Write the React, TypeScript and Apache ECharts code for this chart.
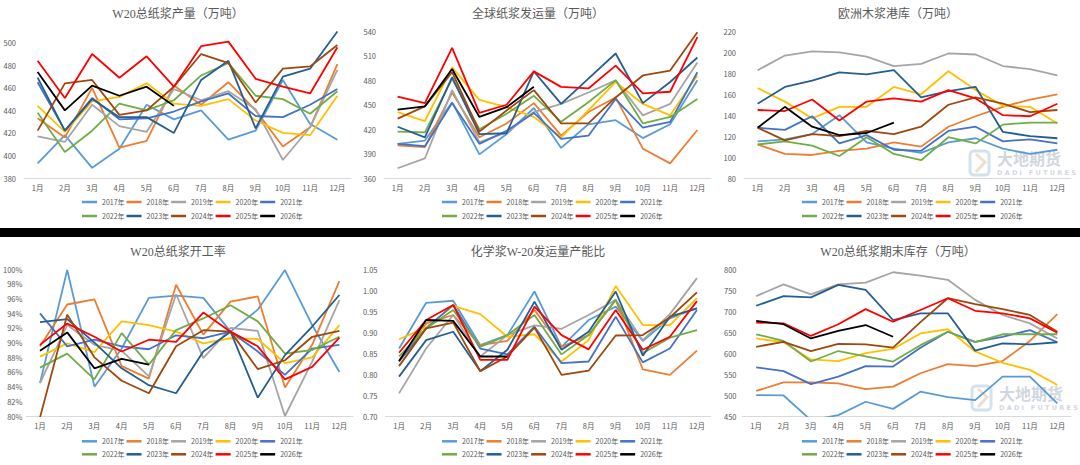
import React, { useEffect, useRef } from 'react';
import * as echarts from 'echarts';

const months = ['1月', '2月', '3月', '4月', '5月', '6月', '7月', '8月', '9月', '10月', '11月', '12月'];
const years = ['2017年', '2018年', '2019年', '2020年', '2021年', '2022年', '2023年', '2024年', '2025年', '2026年'];
const yearColors = ['#5B9BD5', '#ED7D31', '#A5A5A5', '#FFC000', '#4472C4', '#70AD47', '#255E91', '#9E480E', '#FF0000', '#000000'];

// W20总纸浆产量（万吨）, one row per year 2017..2026
const w20Output = [
  [393, 418, 389, 406, 445, 432, 440, 414, 422, 467, 428, 414],
  [433, 416, 460, 407, 413, 462, 445, 465, 440, 408, 425, 481],
  [417, 412, 445, 426, 421, 459, 449, 457, 441, 396, 425, 476],
  [444, 421, 448, 452, 464, 446, 444, 450, 431, 420, 418, 453],
  [465, 422, 451, 432, 433, 439, 448, 455, 435, 434, 445, 459],
  [438, 403, 422, 446, 440, 449, 471, 482, 453, 450, 437, 457],
  [469, 422, 450, 434, 434, 420, 467, 484, 424, 470, 477, 510],
  [422, 464, 467, 436, 440, 461, 490, 482, 447, 477, 479, 498],
  [484, 451, 490, 469, 488, 461, 497, 501, 468, 461, 455, 496],
  [474, 440, 462, 453, 461, 444],
];

// 全球纸浆发运量（万吨）
const globalShipments = [
  [402, 406, 453, 389, 414, 446, 397, 426, 431, 409, 426, 480],
  [400, 398, 465, 410, 427, 452, 412, 441, 459, 396, 378, 419],
  [372, 384, 468, 404, 416, 441, 451, 465, 480, 437, 451, 502],
  [441, 430, 496, 456, 447, 435, 410, 443, 478, 451, 437, 486],
  [402, 399, 452, 402, 418, 440, 408, 412, 457, 422, 429, 490],
  [417, 416, 482, 420, 439, 461, 429, 453, 480, 427, 435, 457],
  [423, 410, 484, 414, 415, 491, 451, 482, 513, 452, 478, 508],
  [433, 448, 490, 417, 443, 468, 427, 427, 459, 486, 492, 539],
  [460, 452, 520, 440, 450, 491, 472, 470, 498, 464, 466, 533],
  [444, 448, 494, 435, 447, 472],
];

// 欧洲木浆港库（万吨）
const euroPortStocks = [
  [115, 117, 122, 140, 114, 108, 104, 114, 118, 108, 103, 107],
  [112, 103, 102, 106, 108, 114, 110, 129, 139, 148, 155, 160],
  [183, 197, 201, 200, 196, 187, 189, 199, 198, 187, 184, 178],
  [166, 153, 137, 148, 148, 167, 160, 182, 164, 149, 148, 132],
  [128, 126, 139, 113, 121, 107, 106, 125, 129, 115, 117, 113],
  [112, 115, 111, 101, 119, 103, 97, 119, 113, 131, 133, 133],
  [151, 167, 173, 181, 179, 183, 157, 163, 167, 124, 120, 118],
  [128, 116, 122, 120, 125, 122, 129, 150, 157, 151, 143, 145],
  [145, 144, 155, 135, 153, 156, 153, 164, 156, 140, 139, 151],
  [128, 148, 129, 121, 123, 133],
];

// W20总纸浆开工率 (%)
const w20Operating = [
  [84.5, 99.9, 84.0, 89.2, 96.1, 96.4, 96.1, 91.5, 94.5, 99.9, 92.4, 86.0],
  [89.5, 95.2, 95.9, 86.8, 85.1, 97.9, 91.1, 95.6, 96.3, 83.9, 89.7, 98.4],
  [84.5, 92.4, 89.7, 88.9, 85.4, 96.6, 87.9, 92.0, 91.6, 80.0, 87.4, 95.8],
  [88.1, 89.9, 88.7, 92.9, 92.4, 91.5, 89.9, 90.6, 90.5, 87.2, 88.0, 92.4],
  [94.0, 89.5, 90.4, 89.5, 89.1, 91.0, 90.6, 91.5, 88.8, 85.6, 89.2, 89.7],
  [86.6, 88.5, 85.0, 91.3, 87.0, 91.7, 93.3, 95.1, 92.9, 88.5, 89.0, 90.8],
  [92.8, 93.2, 90.0, 86.5, 84.2, 83.1, 88.8, 91.5, 82.5, 88.3, 92.2, 96.5],
  [79.8, 93.8, 88.0, 84.8, 83.1, 89.5, 91.7, 91.5, 86.4, 87.6, 90.8, 91.6],
  [89.7, 92.6, 90.8, 88.8, 90.4, 90.1, 94.1, 91.5, 89.5, 85.0, 86.7, 90.7],
  [88.9, 91.4, 86.5, 87.8, 87.0],
];

// 化学浆W-20发运量产能比
const chemShipRatio = [
  [0.861, 0.970, 0.975, 0.869, 0.893, 0.997, 0.865, 0.929, 0.961, 0.879, 0.933, 0.957],
  [0.830, 0.921, 0.941, 0.869, 0.879, 0.953, 0.865, 0.893, 0.977, 0.811, 0.798, 0.856],
  [0.754, 0.861, 0.941, 0.842, 0.893, 0.916, 0.908, 0.941, 0.977, 0.881, 0.943, 1.029],
  [0.883, 0.911, 0.963, 0.943, 0.889, 0.895, 0.830, 0.881, 1.010, 0.917, 0.917, 0.981],
  [0.830, 0.909, 0.965, 0.861, 0.847, 0.913, 0.826, 0.830, 0.937, 0.828, 0.861, 0.953],
  [0.842, 0.909, 0.953, 0.865, 0.893, 0.941, 0.847, 0.893, 0.977, 0.850, 0.887, 0.905],
  [0.794, 0.881, 0.901, 0.807, 0.858, 0.973, 0.858, 0.901, 0.997, 0.844, 0.937, 0.957],
  [0.819, 0.909, 0.923, 0.807, 0.842, 0.911, 0.798, 0.808, 0.892, 0.893, 0.935, 0.995],
  [0.851, 0.929, 0.965, 0.834, 0.834, 0.961, 0.893, 0.859, 0.953, 0.858, 0.889, 0.974],
  [0.831, 0.929, 0.927, 0.842, 0.842],
];

// W20总纸浆期末库存（万吨）
const w20Inventory = [
  [500, 499, 440, 452, 484, 467, 508, 495, 488, 544, 544, 480],
  [510, 530, 530, 528, 514, 520, 552, 574, 569, 581, 629, 693],
  [736, 764, 740, 764, 768, 793, 785, 775, 727, 691, 671, 635],
  [635, 626, 585, 581, 600, 610, 647, 657, 604, 577, 560, 524],
  [566, 557, 526, 544, 569, 568, 613, 651, 627, 639, 655, 626],
  [645, 629, 580, 605, 592, 580, 619, 651, 626, 645, 645, 645],
  [713, 736, 733, 763, 751, 679, 695, 695, 606, 623, 621, 626],
  [615, 627, 605, 622, 621, 613, 674, 731, 717, 705, 691, 651],
  [673, 671, 641, 669, 705, 675, 703, 731, 701, 695, 683, 649],
  [677, 669, 635, 653, 667, 639],
];

const panels = [
  { title: 'W20总纸浆产量（万吨）', data: w20Output, min: 380, max: 510, interval: 20, ox: 0, row: 0, left: 24, width: 327, margin: 8, fmt: (v: number) => String(v) },
  { title: '全球纸浆发运量（万吨）', data: globalShipments, min: 360, max: 540, interval: 30, ox: 360, row: 0, left: 24, width: 327, margin: 8, fmt: (v: number) => String(v) },
  { title: '欧洲木浆港库（万吨）', data: euroPortStocks, min: 80, max: 220, interval: 20, ox: 720, row: 0, left: 24, width: 327, margin: 8, fmt: (v: number) => String(v) },
  { title: 'W20总纸浆开工率', data: w20Operating, min: 80, max: 100, interval: 2, ox: 0, row: 1, left: 25, width: 328, margin: 4, fmt: (v: number) => v + '%' },
  { title: '化学浆W-20发运量产能比', data: chemShipRatio, min: 0.7, max: 1.05, interval: 0.05, ox: 360, row: 1, left: 25.5, width: 325, margin: 8, fmt: (v: number) => v.toFixed(2) },
  { title: 'W20总纸浆期末库存（万吨）', data: w20Inventory, min: 450, max: 800, interval: 50, ox: 720, row: 1, left: 22.5, width: 328.5, margin: 6, fmt: (v: number) => String(v) },
];

const rowLayout = [
  { titleY: 14, gridTop: 31.5, gridHeight: 146.5, legendY: [202, 216] },
  { titleY: 252, gridTop: 269.3, gridHeight: 146.7, legendY: [441.3, 454.3] },
];

const labelColor = '#595959';
const sansFont = "'Noto Sans CJK SC', 'Noto Sans', sans-serif";

function watermark(x: number, y: number) {
  return {
    type: 'group',
    x,
    y,
    silent: true,
    children: [
      { type: 'rect', shape: { x: 0, y: 1, width: 19, height: 24, r: 4 }, style: { fill: 'none', stroke: 'rgba(160,190,215,0.45)', lineWidth: 3 } },
      { type: 'polyline', shape: { points: [[6, 4], [15, 12], [6, 22]] }, style: { fill: 'none', stroke: 'rgba(215,195,150,0.5)', lineWidth: 3 } },
      { type: 'text', x: 27, y: 0, style: { text: '大地期货', font: "bold 16px 'Noto Sans CJK SC'", fill: 'rgba(170,180,195,0.55)' } },
      { type: 'text', x: 27, y: 19, style: { text: 'D A D I   F U T U R E S', font: "bold 6.5px 'DejaVu Sans'", fill: 'rgba(170,180,195,0.55)' } },
    ],
  };
}

export default function App() {
  const chartRef = useRef<HTMLDivElement>(null);

  useEffect(() => {
    if (!chartRef.current) return;
    const chart = echarts.init(chartRef.current, undefined, { renderer: 'svg' });

    const grid: any[] = [];
    const xAxis: any[] = [];
    const yAxis: any[] = [];
    const legend: any[] = [];
    const series: any[] = [];
    const graphic: any[] = [];

    panels.forEach((p, i) => {
      const r = rowLayout[p.row];
      grid.push({ left: p.ox + p.left, top: r.gridTop, width: p.width, height: r.gridHeight });
      xAxis.push({
        type: 'category',
        gridIndex: i,
        data: months,
        boundaryGap: true,
        axisLine: { lineStyle: { color: '#D9D9D9', width: 1 } },
        axisTick: { show: false },
        axisLabel: { color: labelColor, fontSize: 7.5, margin: 6, fontFamily: sansFont, interval: 0 },
      });
      yAxis.push({
        type: 'value',
        gridIndex: i,
        min: p.min,
        max: p.max,
        interval: p.interval,
        axisLine: { show: false },
        axisTick: { show: false },
        splitLine: { show: false },
        axisLabel: { color: labelColor, fontSize: 7.5, margin: p.margin, fontFamily: sansFont, showMaxLabel: p.max % p.interval === 0 || i === 4, formatter: p.fmt },
      });
      [years.slice(0, 5), years.slice(5)].forEach((names, k) => {
        legend.push({
          left: p.ox + 82,
          top: r.legendY[k] - 4.5,
          padding: 0,
          icon: 'rect',
          itemWidth: 15,
          itemHeight: 2.5,
          itemGap: 2,
          data: names,
          selectedMode: false,
          textStyle: { fontSize: 7, color: labelColor, fontFamily: sansFont, lineHeight: 9 },
        });
      });
      p.data.forEach((values, k) => {
        series.push({
          name: years[k],
          type: 'line',
          xAxisIndex: i,
          yAxisIndex: i,
          data: values,
          symbol: 'none',
          color: yearColors[k],
          lineStyle: { width: 1.8, color: yearColors[k] },
        });
      });
      graphic.push({
        type: 'text',
        x: p.ox + 178,
        y: r.titleY,
        style: {
          text: p.title,
          font: "12px 'Liberation Serif', 'Noto Sans CJK SC', serif",
          fill: labelColor,
          align: 'center',
          verticalAlign: 'middle',
          textAlign: 'center',
          textVerticalAlign: 'middle',
        },
      });
    });

    graphic.push(watermark(970, 150));
    graphic.push(watermark(972, 385));
    graphic.push({ type: 'rect', shape: { x: 0, y: 228, width: 1080, height: 9 }, style: { fill: '#000000' }, z: 100 });

    chart.setOption({
      animation: false,
      backgroundColor: '#FFFFFF',
      textStyle: { fontFamily: sansFont },
      grid,
      xAxis,
      yAxis,
      legend,
      series,
      graphic,
    });

    return () => {
      chart.dispose();
    };
  }, []);

  return <div ref={chartRef} style={{ position: 'absolute', left: 0, top: 0, width: 1080, height: 465 }} />;
}
